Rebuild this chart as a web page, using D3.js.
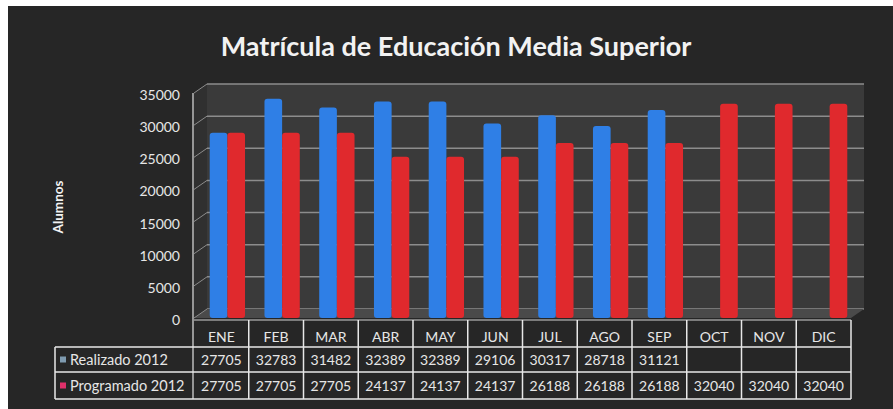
<!DOCTYPE html>
<html>
<head>
<meta charset="utf-8">
<script src="https://cdn.jsdelivr.net/npm/d3@7"></script>
<style>
  body { margin: 0; background: #fff; }
  svg { display: block; }
</style>
</head>
<body>
<script>
// data
const months = ["ENE", "FEB", "MAR", "ABR", "MAY", "JUN", "JUL", "AGO", "SEP", "OCT", "NOV", "DIC"];
const realizado = [27705, 32783, 31482, 32389, 32389, 29106, 30317, 28718, 31121, null, null, null];
const programado = [27705, 27705, 27705, 24137, 24137, 24137, 26188, 26188, 26188, 32040, 32040, 32040];
const seriesNames = ["Realizado 2012", "Programado 2012"];
const yTicks = [0, 5000, 10000, 15000, 20000, 25000, 30000, 35000];

var width = 893, height = 409;
var depth = {dx: 13, dy: -9};   // fake 3d offset of the back wall

var svg = d3.select("body")
    .append("svg")
    .attr("width", width)
    .attr("height", height);

// white frame then dark background
svg.append("rect").attr("width", width).attr("height", height).attr("fill", "#fff");
svg.append("rect").attr("x", 8).attr("y", 6).attr("width", width - 8).attr("height", height - 6)
    .attr("fill", "#262626");

svg.append("text")
    .attr("x", 456)
    .attr("y", 56)
    .attr("text-anchor", "middle")
    .attr("font-family", "Lato, 'Open Sans', sans-serif")
    .attr("font-weight", "bold")
    .attr("font-size", 27)
    .attr("fill", "#f2f2f2")
    .text("Matrícula de Educación Media Superior");

const x = d3.scaleBand()
    .domain(months)
    .range([194, 851]);

// front plane (labels)
const y = d3.scaleLinear()
    .domain([0, 35000])
    .range([318, 93]);

// bars sit between front and back plane
const yBar = d3.scaleLinear()
    .domain([0, 35000])
    .range([318, 84]);

// back wall
var wall = svg.append("g").attr("transform", `translate(${depth.dx}, ${depth.dy})`);
wall.append("rect")
    .attr("x", 194).attr("y", y(35000))
    .attr("width", 657).attr("height", y(0) - y(35000))
    .attr("fill", "#3a3a3a");
wall.selectAll("line.grid")
    .data(yTicks)
    .enter()
    .append("line")
    .attr("x1", 194).attr("x2", 851)
    .attr("y1", d => y(d)).attr("y2", d => y(d))
    .attr("stroke", "#8c8c8c")
    .attr("stroke-width", 1.5);

// side wall / floor
svg.append("path")
    .attr("d", `M194,${y(35000)} L${194 + depth.dx},${y(35000) + depth.dy} L${194 + depth.dx},${y(0) + depth.dy} L194,${y(0)} Z`)
    .attr("fill", "#303030");
svg.append("path")
    .attr("d", `M194,${y(0)} L${194 + depth.dx},${y(0) + depth.dy} L${851 + depth.dx},${y(0) + depth.dy} L851,${y(0)} Z`)
    .attr("fill", "#4a4a4a");
svg.selectAll("line.depth")
    .data(yTicks)
    .enter()
    .append("line")
    .attr("x1", 194).attr("y1", d => y(d))
    .attr("x2", 194 + depth.dx).attr("y2", d => y(d) + depth.dy)
    .attr("stroke", "#8c8c8c");

// bars
const sub = d3.scaleBand()
    .domain([0, 1])
    .range([0, x.bandwidth()])
    .paddingInner(0)
    .paddingOuter(0.55);
const colors = ["#2f7fe6", "#e0292d"];
const bars = [];
months.forEach((m, i) => {
    if (realizado[i] != null) bars.push({m: m, s: 0, v: realizado[i]});
    bars.push({m: m, s: 1, v: programado[i]});
});
svg.append("g")
    .attr("transform", "translate(6,0)")
    .selectAll("rect")
    .data(bars)
    .enter()
    .append("rect")
    .attr("x", d => x(d.m) + sub(d.s))
    .attr("y", d => yBar(d.v))
    .attr("width", sub.bandwidth())
    .attr("height", d => yBar(0) - yBar(d.v))
    .attr("rx", 3)
    .attr("fill", d => colors[d.s]);

// front axis line
svg.append("line")
    .attr("x1", 193).attr("x2", 193)
    .attr("y1", y(35000)).attr("y2", 399)
    .attr("stroke", "#bdbdbd").attr("stroke-width", 1.5);

// y labels
svg.append("g")
    .selectAll("text")
    .data(yTicks)
    .enter()
    .append("text")
    .attr("x", 180)
    .attr("y", d => y(d) + 7)
    .attr("text-anchor", "end")
    .attr("font-family", "Lato, sans-serif")
    .attr("font-size", 14)
    .attr("fill", "#e6e6e6")
    .text(d => d);

svg.append("text")
    .attr("transform", "rotate(-90)")
    .attr("x", -207)
    .attr("y", 63)
    .attr("text-anchor", "middle")
    .attr("font-family", "Lato, sans-serif")
    .attr("font-weight", "bold")
    .attr("font-size", 13.5)
    .attr("fill", "#f2f2f2")
    .text("Alumnos");

// data table
var rows = [320, 347, 372, 399];
var t = svg.append("g")
    .attr("stroke", "#e8e8e8")
    .attr("stroke-width", 1.5);
t.append("line").attr("x1", 194).attr("x2", 851).attr("y1", 320).attr("y2", 320).attr("stroke", "#9a9a9a");
rows.slice(1).forEach(r => {
    t.append("line").attr("x1", 55).attr("x2", 851).attr("y1", r).attr("y2", r);
});
t.append("line").attr("x1", 55).attr("x2", 55).attr("y1", 347).attr("y2", 399);
t.selectAll("line.col")
    .data(months)
    .enter()
    .append("line")
    .attr("x1", d => x(d) + x.bandwidth()).attr("x2", d => x(d) + x.bandwidth())
    .attr("y1", 320).attr("y2", 399);

var txt = svg.append("g")
    .attr("font-family", "Lato, sans-serif")
    .attr("font-size", 14)
    .attr("fill", "#e6e6e6")
    .attr("text-anchor", "middle");
txt.selectAll("text.m")
    .data(months)
    .enter()
    .append("text")
    .attr("x", d => x(d) + x.bandwidth() / 2)
    .attr("y", 342)
    .text(d => d);
[realizado, programado].forEach((vals, s) => {
    txt.selectAll("text.v" + s)
        .data(months)
        .enter()
        .append("text")
        .attr("x", d => x(d) + x.bandwidth() / 2)
        .attr("y", (rows[s + 1] + rows[s + 2]) / 2 + 5)
        .text((d, i) => vals[i] == null ? "" : vals[i]);
    svg.append("rect")
        .attr("x", 60).attr("y", (rows[s + 1] + rows[s + 2]) / 2 - 3)
        .attr("width", 6).attr("height", 6)
        .attr("fill", s == 0 ? "#7f9bb0" : "#e0306a");
    svg.append("text")
        .attr("x", 70)
        .attr("y", (rows[s + 1] + rows[s + 2]) / 2 + 5)
        .attr("font-family", "Lato, sans-serif")
        .attr("font-size", 14.5)
        .attr("fill", "#e6e6e6")
        .text(seriesNames[s]);
});
</script>
</body>
</html>
